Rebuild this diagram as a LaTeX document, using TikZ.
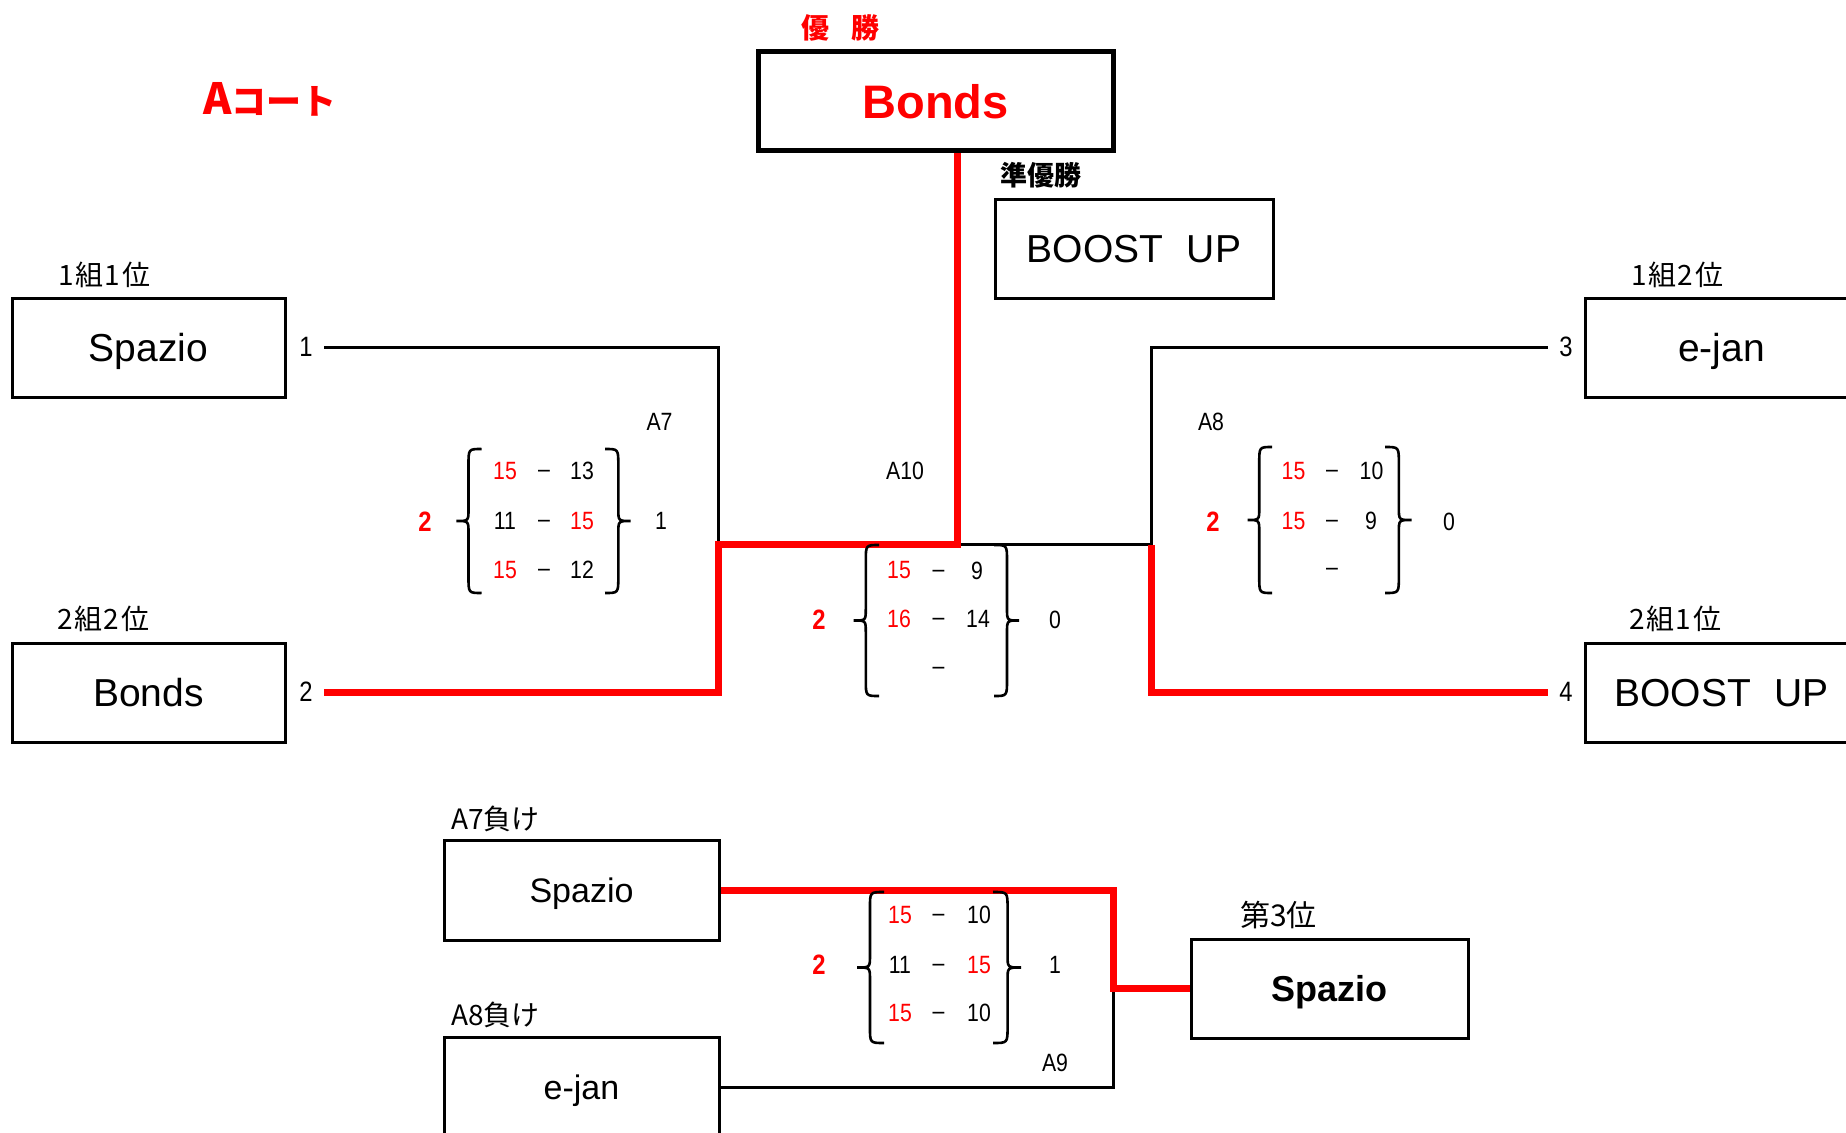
\documentclass[tikz,border=0pt]{standalone}
\usepackage{fontspec}
\setmainfont{Liberation Sans}
\newfontfamily\jp{Noto Sans CJK JP}
\newfontfamily\nar[FakeStretch=0.85]{Liberation Sans}
\definecolor{rd}{RGB}{255,0,0}
\newcommand\brc[4]{%
 \pgfmathsetmacro\bxv{#1+0.48*(#2-#1)}%
 \pgfmathsetmacro\bym{(#3+#4)/2}%
 \draw[brcline] (#2,#3) .. controls ({\bxv},#3) .. ({\bxv},{#3+16}) -- ({\bxv},{\bym-12}) .. controls ({\bxv},{\bym}) .. (#1,{\bym}) .. controls ({\bxv},{\bym}) .. ({\bxv},{\bym+12}) -- ({\bxv},{#4-16}) .. controls ({\bxv},#4) .. (#2,#4);}
\begin{document}
\begin{tikzpicture}[x=1pt,y=-1pt,
 box/.style={draw, line width=3pt, minimum width=273pt, minimum height=99pt, inner sep=0pt, text depth=0pt, font=\fontsize{39}{44}\selectfont},
 lab/.style={anchor=west, inner sep=0pt, font=\jp\fontsize{28}{32}\selectfont},
 num/.style={inner sep=0pt, minimum width=36pt, font=\nar\fontsize{28}{32}\selectfont},
 sc/.style={inner sep=0pt, font=\nar\fontsize{25}{30}\selectfont},
 scr/.style={sc, text=rd},
 dsh/.style={sc, yshift=-3pt},
 wins/.style={inner sep=0pt, text=rd, font=\nar\bfseries\fontsize{28}{32}\selectfont},
 blk/.style={line width=3pt},
 redl/.style={draw=rd, line width=7pt},
 brcline/.style={line width=2.6pt}
]
\useasboundingbox (0,0) rectangle (1846,1132);
\clip (0,0) rectangle (1846,1132);

% titles
\node[anchor=west, inner sep=0pt, text=rd, font=\jp\bfseries\fontsize{35}{40}\selectfont] (title) at (203,99) {{\fontsize{43}{46}\selectfont A}コート};
\node[anchor=west, inner sep=0pt, text=rd, font=\jp\bfseries\fontsize{28}{32}\selectfont] (yusho) at (801,27.5) {優\hspace{0.78em}勝};
\node[anchor=west, inner sep=0pt, font=\jp\bfseries\fontsize{27}{30}\selectfont] (junyusho) at (1000,175) {準優勝};

% boxes
\node[box, line width=5pt, minimum width=355pt, minimum height=98pt, text=rd, font=\fontsize{47}{50}\selectfont\bfseries] (win) at (935.5,101) {Bonds};
\node[box, minimum width=278pt] (ru) at (1134,248.5) {BOOST\hspace{0.6em}UP};
\node[box] (b1) at (148.5,347.5) {Spazio};
\node[box] (b2) at (148.5,692.5) {Bonds};
\node[box] (b3) at (1721.5,347.5) {e-jan};
\node[box] (b4) at (1721.5,692.5) {BOOST\hspace{0.6em}UP};
\node[box, minimum width=275pt, minimum height=100pt, font=\fontsize{34}{38}\selectfont] (c1) at (581.5,890) {Spazio};
\node[box, minimum width=275pt, minimum height=100pt, font=\fontsize{34}{38}\selectfont] (c2) at (581.5,1087) {e-jan};
\node[box, minimum width=277pt, font=\fontsize{36}{40}\selectfont\bfseries] (third) at (1329.5,988.5) {Spazio};

% labels
\node[lab] (l11) at (58,275) {1\kern2pt 組\kern1pt 1\kern2pt 位};
\node[lab] (l22) at (57,619) {2\kern2pt 組\kern1pt 2\kern2pt 位};
\node[lab] (l12) at (1631,275) {1\kern2pt 組\kern1pt 2\kern2pt 位};
\node[lab] (l21) at (1629,619) {2\kern2pt 組\kern1pt 1\kern2pt 位};
\node[lab] (la7) at (451,819) {A7負け};
\node[lab] (la8) at (451,1015) {A8負け};
\node[lab, font=\jp\fontsize{30}{34}\selectfont] (l3rd) at (1240,915) {第3位};

% seed numbers
\node[num] (n1) at (306,347) {1};
\node[num] (n2) at (306,692) {2};
\node[num] (n3) at (1566,347) {3};
\node[num] (n4) at (1566,692) {4};

% connectors
\coordinate (j7) at (718,544.5);
\coordinate (j10) at (957,544.5);
\coordinate (j8) at (1151.5,544.5);
\coordinate (j9) at (1113,988.5);
\draw[blk] (n1.east) -| (j7);
\draw[blk] (j10) -- (j8);
\draw[blk] (n3.west) -| (j8);
\draw[blk] (c2.east) -| (j9);
\draw[redl] (n2.east) -| (j7) -- (j10) -- (j10 |- win.south);
\draw[redl] (n4.west) -| (j8);
\draw[redl] (c1.east) -| (j9) -- (third.west);

% A7
\node[scr] (a7l1) at (505,471) {15};
\node[dsh] (a7d1) at (544,471) {–};
\node[sc] (a7r1) at (582,471) {13};
\node[sc] (a7l2) at (505,521) {11};
\node[dsh] (a7d2) at (544,521) {–};
\node[scr] (a7r2) at (582,521) {15};
\node[scr] (a7l3) at (505,570) {15};
\node[dsh] (a7d3) at (544,570) {–};
\node[sc] (a7r3) at (582,570) {12};
\node[wins] (a7w) at (425,522) {2};
\node[sc] (a7s) at (661,521) {1};
\node[sc] (a7n) at (659.5,422) {A7};
\brc{456.5}{481.5}{449}{593}
\brc{630.6}{605}{449}{593}

% A10
\node[scr] (a10l1) at (899,570.5) {15};
\node[dsh] (a10d1) at (938.5,570.5) {–};
\node[sc] (a10r1) at (977,570.5) {9};
\node[scr] (a10l2) at (899,619) {16};
\node[dsh] (a10d2) at (938.5,619) {–};
\node[sc] (a10r2) at (978,619) {14};
\node[dsh] (a10d3) at (938.5,668) {–};
\node[wins] (a10w) at (819,620) {2};
\node[sc] (a10s) at (1055,620) {0};
\node[sc] (a10n) at (905,471) {A10};
\brc{853.6}{879}{545}{696}
\brc{1019}{994}{545}{696}

% A8
\node[scr] (a8l1) at (1293.5,471) {15};
\node[dsh] (a8d1) at (1332,471) {–};
\node[sc] (a8r1) at (1371.5,471) {10};
\node[scr] (a8l2) at (1293.5,521) {15};
\node[dsh] (a8d2) at (1332,521) {–};
\node[sc] (a8r2) at (1371,521) {9};
\node[dsh] (a8d3) at (1332,569) {–};
\node[wins] (a8w) at (1213,522) {2};
\node[sc] (a8s) at (1449,522) {0};
\node[sc] (a8n) at (1211,422) {A8};
\brc{1247.5}{1272}{447}{593}
\brc{1411.6}{1385}{447}{593}

% A9
\node[scr] (a9l1) at (900,915) {15};
\node[dsh] (a9d1) at (938.5,915) {–};
\node[sc] (a9r1) at (979,915) {10};
\node[sc] (a9l2) at (900,965) {11};
\node[dsh] (a9d2) at (938.5,965) {–};
\node[scr] (a9r2) at (979,965) {15};
\node[scr] (a9l3) at (900,1013) {15};
\node[dsh] (a9d3) at (938.5,1013) {–};
\node[sc] (a9r3) at (979,1013) {10};
\node[wins] (a9w) at (819,965) {2};
\node[sc] (a9s) at (1055,965) {1};
\node[sc] (a9n) at (1055,1063) {A9};
\brc{857}{884}{892}{1043}
\brc{1021}{993}{892}{1043}
\end{tikzpicture}
\end{document}
